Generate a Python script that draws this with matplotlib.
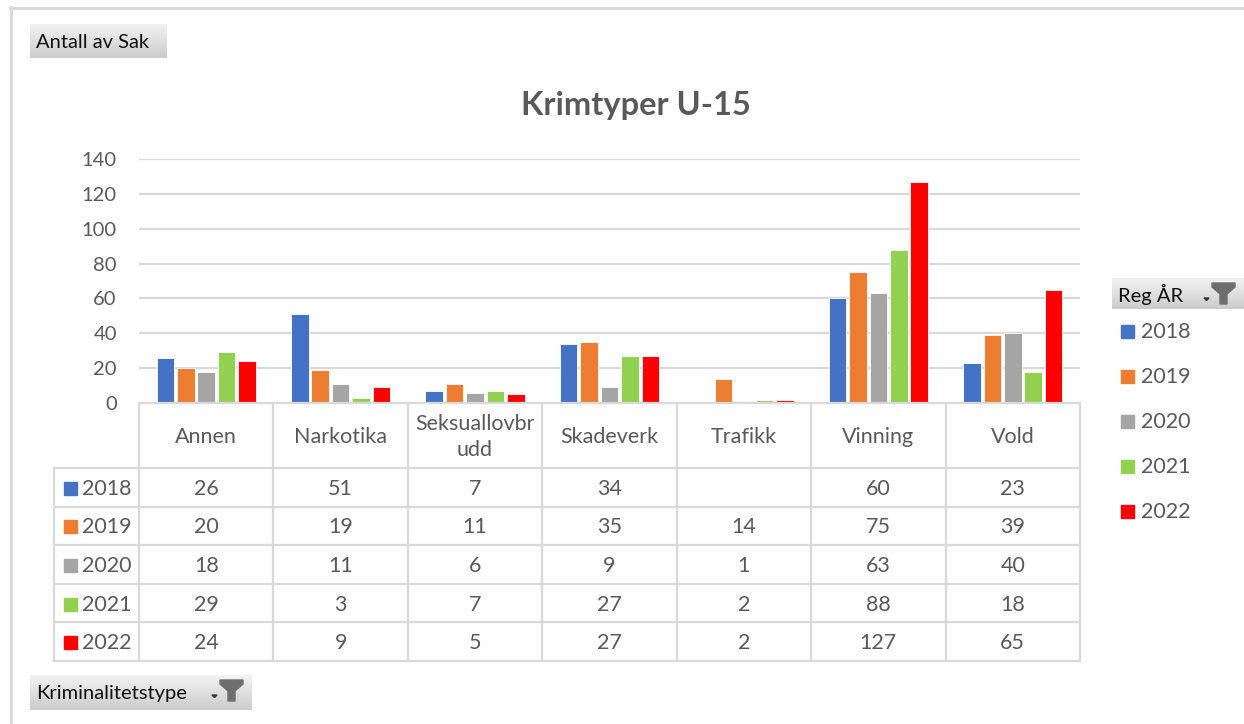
import numpy as np
import matplotlib
matplotlib.use("Agg")
import matplotlib.pyplot as plt
from matplotlib.patches import Rectangle, Polygon

plt.rcParams['font.family'] = ['Lato', 'DejaVu Sans']

# ---- data ----
categories = ["Annen", "Narkotika", "Seksuallovbr\nudd", "Skadeverk", "Trafikk", "Vinning", "Vold"]
years = ["2018", "2019", "2020", "2021", "2022"]
v2018 = [26, 51, 7, 34, None, 60, 23]
v2019 = [20, 19, 11, 35, 14, 75, 39]
v2020 = [18, 11, 6, 9, 1, 63, 40]
v2021 = [29, 3, 7, 27, 2, 88, 18]
v2022 = [24, 9, 5, 27, 2, 127, 65]
series = [v2018, v2019, v2020, v2021, v2022]
colors = ["#4472C4", "#ED7D31", "#A5A5A5", "#92D050", "#FF0000"]
yticks = [0, 20, 40, 60, 80, 100, 120, 140]
title = "Krimtyper U-15"

W, H = 1244, 724
fig = plt.figure(figsize=(W / 100, H / 100), dpi=100)
TXT = "#595959"
GRID = "#d9d9d9"

# plot area in pixels
x0, x1, ytop, ybot = 139, 1080, 159, 403
ax = fig.add_axes([x0 / W, 1 - ybot / H, (x1 - x0) / W, (ybot - ytop) / H])
n = len(categories)
ax.set_xlim(-0.5, n - 0.5)
ax.set_ylim(0, 140)
step, bw = 0.152, 0.13
for j, (vals, c) in enumerate(zip(series, colors)):
    xs = [i + (j - 2) * step for i in range(n) if vals[i] is not None]
    hs = [v for v in vals if v is not None]
    ax.bar(xs, hs, width=bw, color=c, edgecolor="white", linewidth=0.6, zorder=3)
ax.set_yticks(yticks)
ax.set_yticklabels([str(t) for t in yticks], color=TXT, fontsize=14.5)
ax.tick_params(axis='y', length=0, pad=16)
ax.set_xticks([])
for t in yticks[1:]:
    ax.axhline(t, color=GRID, lw=1.6, zorder=1)
for s in ax.spines.values():
    s.set_visible(False)
ax.patch.set_alpha(0)

# overlay in pixel coords
ov = fig.add_axes([0, 0, 1, 1], zorder=5)
ov.set_xlim(0, W)
ov.set_ylim(H, 0)
ov.axis("off")
ov.patch.set_alpha(0)

# outer frame
ov.plot([10, W], [7.5, 7.5], color="#d9d9d9", lw=2.2)
ov.plot([10.5, 10.5], [7, H], color="#d9d9d9", lw=2.2)

# title
ov.text(636, 105, title, ha="center", va="center",
        fontsize=23.5, fontweight="bold", color=TXT)

# table
colw = (x1 - x0) / n
bounds = [x0 + k * colw for k in range(n + 1)]
rows_top = 468
rowh = (661 - 468) / 5
lw_t = 1.6
FS = 15.5
ov.plot([x0, x1], [ybot, ybot], color=GRID, lw=lw_t)
for b in bounds:
    ov.plot([b, b], [ybot, 661], color=GRID, lw=lw_t)
ov.plot([54, 54], [rows_top, 661], color=GRID, lw=lw_t)
for r in range(6):
    yy = rows_top + r * rowh
    ov.plot([54, x1], [yy, yy], color=GRID, lw=lw_t)
for i, cat in enumerate(categories):
    ov.text((bounds[i] + bounds[i + 1]) / 2, 437, cat, ha="center", va="center",
            fontsize=FS, color=TXT, linespacing=1.35)
for r, (yr, vals, c) in enumerate(zip(years, series, colors)):
    yc = rows_top + (r + 0.5) * rowh + 1.5
    ov.add_patch(Rectangle((64, yc - 7), 13, 13, color=c))
    ov.text(82, yc, yr, ha="left", va="center", fontsize=FS, color=TXT)
    for i, v in enumerate(vals):
        if v is not None:
            ov.text((bounds[i] + bounds[i + 1]) / 2, yc, str(v), ha="center",
                    va="center", fontsize=FS, color=TXT)

# legend
for r, (yr, c) in enumerate(zip(years, colors)):
    yc = 331 + r * 45
    ov.add_patch(Rectangle((1121, yc - 6.5), 13, 13, color=c))
    ov.text(1141, yc + 1, yr, ha="left", va="center", fontsize=15.5, color=TXT)


def button(xa, ya, xb, yb, label, funnel=False):
    grad = np.linspace(0.95, 0.80, 50).reshape(-1, 1)
    ov.imshow(np.dstack([grad, grad, grad]), extent=(xa, xb, yb, ya),
              aspect="auto", zorder=1, interpolation="bilinear")
    ov.text(xa + 6, (ya + yb) / 2 + 1, label, ha="left", va="center",
            fontsize=14.5, color="#111111", zorder=2)
    if funnel:
        fx = xb - 32
        fy = ya + 5
        ov.add_patch(Polygon([(fx, fy), (fx + 23, fy), (fx + 23, fy + 4), (fx + 15, fy + 11),
                              (fx + 15, fy + 21), (fx + 8, fy + 21), (fx + 8, fy + 11),
                              (fx, fy + 4)], closed=True, color="#6e6e6e", zorder=2))
        ov.add_patch(Polygon([(fx - 8, fy + 15), (fx - 3, fy + 15), (fx - 5.5, fy + 17.5)],
                             closed=True, color="#333333", zorder=2))


button(30, 24, 167, 58, "Antall av Sak")
button(1112, 278, 1244, 309, "Reg ÅR", funnel=True)
button(30, 675, 252, 710, "Kriminalitetstype", funnel=True)

ov.set_xlim(0, W)
ov.set_ylim(H, 0)

fig.savefig("out.png", dpi=100, facecolor="white")
